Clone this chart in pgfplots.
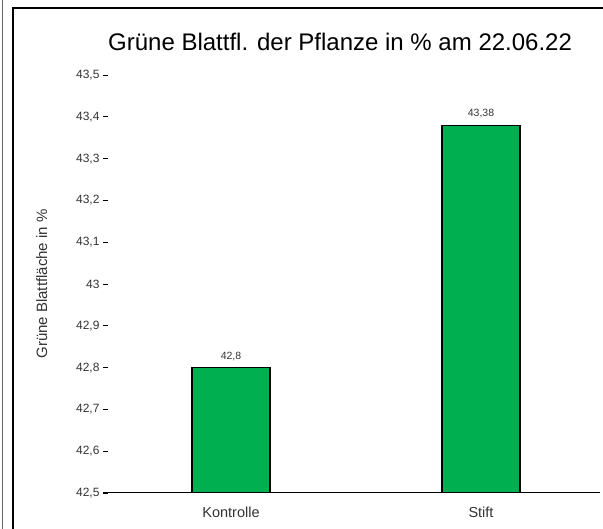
\documentclass[border=0pt]{standalone}
\usepackage{fontspec}
\setmainfont{Liberation Sans}
\usepackage{pgfplots}
\pgfplotsset{compat=1.18}
\definecolor{barGreen}{RGB}{0,176,80}

\begin{document}
\begin{tikzpicture}[x=1pt,y=1pt]
\path[use as bounding box] (0,0) rectangle (603,529);
% outer frame
\draw[line width=1pt,black!60] (2,0) -- (2,529);
\draw[line width=2pt] (13,0) -- (13,521) -- (604,521);
\begin{axis}[
  at={(103pt,36pt)}, anchor=south west,
  scale only axis, width=497pt, height=418pt,
  xmin=-0.512, xmax=1.476,
  ymin=42.5, ymax=43.5,
  ytick={42.5,42.6,42.7,42.8,42.9,43,43.1,43.2,43.3,43.4,43.5},
  xtick={0,1}, xticklabels={Kontrolle,Stift},
  separate axis lines,
  axis x line*=bottom, axis y line*=left,
  x axis line style={-, line width=1pt},
  y axis line style={draw=none},
  xtick style={draw=none},
  ytick style={black, line width=0.8pt},
  tick align=inside, major tick length=5pt,
  /pgf/number format/.cd, use comma, fixed, assume math mode=true,
  /pgfplots/.cd,
  yticklabel style={font=\fontsize{12}{14}\selectfont, color=black!80},
  xticklabel style={font=\fontsize{14.5}{16}\selectfont, color=black!80, yshift=-5pt},
  title={Grüne Blattfl. der Pflanze in \% am 22.06.22},
  title style={font=\fontsize{24}{27}\selectfont, at={(axis description cs:0.477,1.045)}, anchor=base},
  ylabel={Grüne Blattfläche in \%},
  ylabel style={font=\fontsize{15}{17}\selectfont, color=black!80, at={(axis description cs:-0.123,0.5)}, rotate=0, anchor=center},
  ybar, bar width=78pt,
  nodes near coords={\pgfmathprintnumber[use comma,fixed,precision=2]{\pgfplotspointmeta}},
  every node near coord/.append style={font=\fontsize{10.5}{12}\selectfont, color=black!80, yshift=3pt},
]
\addplot[fill=barGreen, draw=black, line width=1.2pt, bar shift=0pt]
  coordinates {(0,42.8) (1,43.38)};
\end{axis}
\end{tikzpicture}
\end{document}
